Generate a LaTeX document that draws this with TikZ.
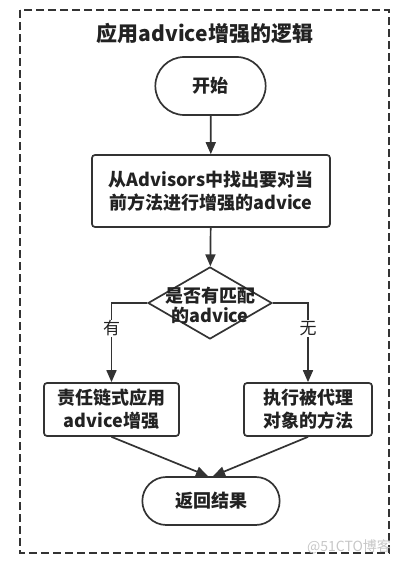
\documentclass[tikz,border=0pt]{standalone}
\usepackage{fontspec}
\setmainfont{Noto Sans CJK SC}
\usepackage{tikz}
\usetikzlibrary{
    arrows.meta,
    shapes,
    shapes.geometric,
    shapes.misc,
    calc,
    positioning
}
\definecolor{lnc}{HTML}{333333}
\definecolor{txc}{HTML}{222222}
\tikzset{pill/.style={rounded rectangle, draw=lnc, line width=1.7pt, text=txc, font=\fontsize{18}{23}\selectfont\bfseries}}
\tikzset{box/.style={rectangle, rounded corners=3pt, draw=lnc, line width=1.7pt, align=center, text=txc, font=\fontsize{18}{23}\selectfont\bfseries}}
\tikzset{flow/.style={draw=lnc, line width=1.7pt, -{Triangle[length=12pt, width=10pt]}}}
\tikzset{yesno/.style={fill=white, inner sep=1pt, text=txc, font=\fontsize{17}{20}\selectfont}}

\begin{document}
\begin{tikzpicture}[x=1pt, y=-1pt]
                        \useasboundingbox (0, 0) rectangle (409, 565);

                        \draw[lnc, line width=1.6pt, dash pattern=on 8pt off 4pt] (20, 10) rectangle (389, 553);

                        \node[text=txc, font=\fontsize{21}{25}\selectfont\bfseries] (title) at (205, 33) {应用advice增强的逻辑};

                        \node[pill, minimum width=117, minimum height=58] (start) at (210.5, 86) {开始};
                        \node[box, minimum width=238, minimum height=72] (find) at (211, 191) {从Advisors中找出要对当\\前方法进行增强的advice};
                        \node[diamond, draw=lnc, line width=1.7pt, minimum width=124, minimum height=72, inner sep=0pt] (match) at (210, 303) {};
                        \node[align=center, text=txc, font=\fontsize{18}{20}\selectfont\bfseries] (matchtxt) at (210, 306) {是否有匹配\\的advice};
                        \node[box, minimum width=135, minimum height=53] (chain) at (111.5, 409.5) {责任链式应用\\advice增强};
                        \node[box, minimum width=128, minimum height=53] (invoke) at (308, 409.5) {执行被代理\\对象的方法};
                        \node[pill, minimum width=144, minimum height=48] (result) at (211, 501) {返回结果};

                        \draw
                        (start) edge[flow] (find)
                        (find) edge[flow] (match)
                        (chain.south) edge[flow] ([xshift=-3pt]result.north)
                        (invoke.south) edge[flow] ([xshift=2pt]result.north);

                        \draw[flow] (match.west) -| node[yesno, pos=0.66] (yes) {有} (chain.north);
                        \draw[flow] (match.east) -| node[yesno, pos=0.66] (no) {无} (invoke.north);

                        \node[text=black!22, font=\fontsize{14}{16}\selectfont] (mark) at (349, 547) {@51CTO博客};
                    \end{tikzpicture}
\end{document}
